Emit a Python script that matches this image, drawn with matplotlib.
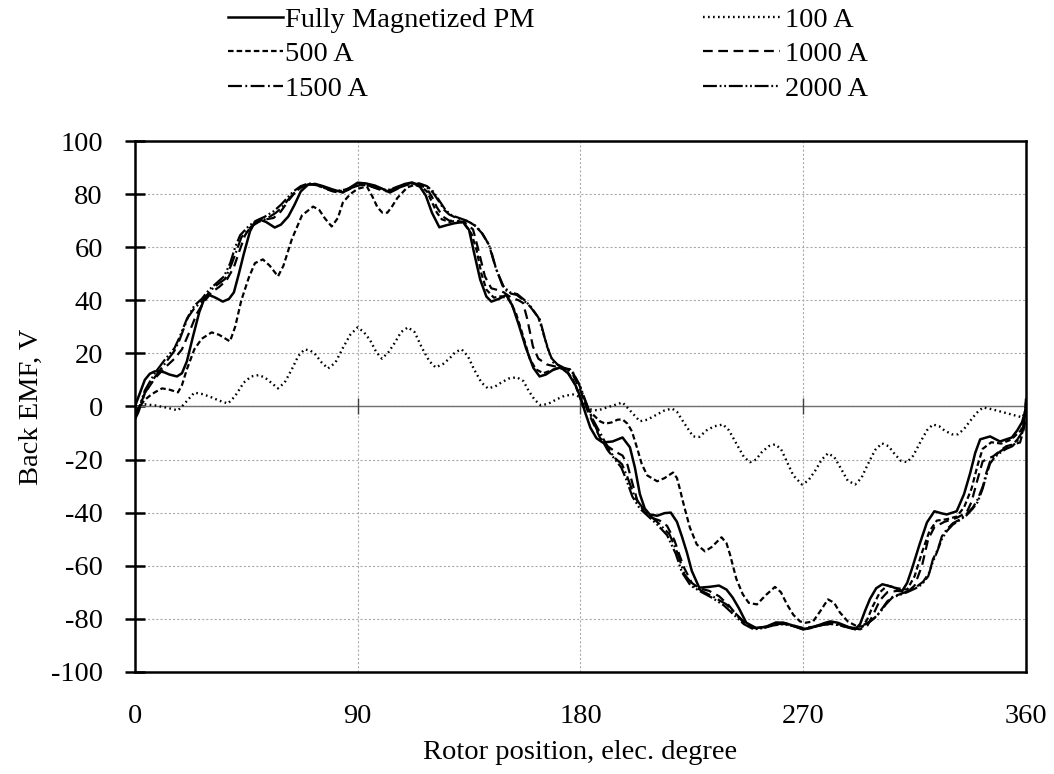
import matplotlib
matplotlib.use("Agg")
import matplotlib.pyplot as plt

plt.rcParams['font.family'] = ['Liberation Serif', 'DejaVu Serif']
plt.rcParams['font.size'] = 20.5
plt.rcParams['axes.unicode_minus'] = False
plt.rcParams['lines.scale_dashes'] = False

# rotor position (elec. deg) and back EMF (V)
x_fm = [0, 2, 4, 6, 8, 10, 12, 14, 17, 19, 21, 23.5, 26, 28, 30, 32.5, 35.5, 38, 40, 42, 44, 46.5, 48.5, 50.5,
        53, 56.5, 59, 62, 64.5, 67, 70, 73, 76, 80, 84, 87, 90, 93.5, 97, 100, 103, 106, 109, 112, 115, 117.5,
        120, 123, 126, 129, 132.5, 135, 137, 139.5, 142, 144, 147, 150, 152.5, 155, 158, 161, 163.5, 166, 169,
        172, 175, 178, 180, 182, 184, 186.5, 189, 193, 197, 200, 202, 204, 206, 208, 211, 214, 216.5, 219, 221,
        223, 225, 228, 232, 236, 239, 241.5, 244, 247, 251, 255, 259, 262, 265, 270, 273, 276, 279, 281, 284,
        288, 291, 293, 295, 297, 299.5, 302, 306, 310, 312, 314, 317, 320, 323, 326, 328, 332, 335, 337.5,
        339.5, 341.5, 345.5, 349.5, 354.3, 356.5, 358.4, 360]
y_fm = [0, 5, 10, 12.3, 13.2, 13.3, 12.8, 12, 11.3, 12.5, 17, 26.5, 35.5, 40.5, 42, 41, 39.5, 40.5, 43, 50, 57.5,
        66, 69.5, 70.4, 69.5, 67.4, 68.5, 71.6, 76, 81, 83.6, 83.8, 83, 81.7, 80.6, 82.5, 84.3, 84, 83.2, 82,
        80.6, 82, 83.8, 84.4, 83, 79.5, 73, 67.5, 68.3, 69, 69.5, 66.5, 58, 47.8, 41.4, 39.5, 40.5, 42, 38, 31,
        22, 14.5, 11.3, 12, 13.8, 14.7, 12.5, 8, 3.5, -2.5, -8, -12, -13.6, -13.2, -11.7, -15.4, -23, -33,
        -38.5, -40.7, -41.2, -40.2, -40, -43.5, -49, -55, -62, -68.3, -68, -67.5, -69, -72, -76, -81.5, -83.5,
        -83, -81.4, -81.5, -82.3, -84, -83.5, -82.5, -81.5, -81, -81.5, -83, -84, -82, -77, -72.5, -68.5, -67,
        -68, -69.5, -66.5, -61, -52, -43.7, -39.5, -40.3, -40.7, -39.5, -33, -25, -17.5, -12.4, -11.3, -13.2,
        -11.7, -9, -6, -1]

x_100 = [0, 4, 8, 13, 17.4, 20, 24, 27.5, 31, 34, 37.6, 40.4, 44, 47, 50, 52.5, 55, 57.8, 60.5, 63.4, 66, 68.5,
         71, 73, 75.5, 78, 81, 84, 87, 90, 92.5, 95, 97.5, 99.8, 102.5, 105, 107.5, 110.3, 113, 116, 119,
         121.5, 124.5, 127, 129.5, 132, 134.5, 137, 140, 142.6, 145.5, 148, 151, 154.3, 157, 159, 161.5, 164,
         167, 170, 173.5, 177, 180, 183, 187, 192, 197, 200, 204, 207, 210, 214, 217, 219, 221, 225.5, 228,
         231, 234, 237.6, 240, 243, 246, 248.5, 251, 253, 256, 258.6, 261, 263, 266, 269.5, 272, 275, 277.5,
         280, 282.5, 285, 288, 291, 293.5, 296, 299, 301.8, 304.5, 307, 309.5, 312, 314.5, 317, 320, 322.4,
         325, 327, 330, 332.5, 335, 337, 340, 342.6, 346, 350, 354, 358.4, 360]
y_100 = [0, 0.8, 0.4, -0.5, -1.5, 1, 5.2, 4.6, 3.4, 2.2, 1.1, 3.8, 9, 11.3, 11.8, 10.9, 9, 6.8, 9, 14, 19,
         21.5, 21, 19.5, 16.5, 14.3, 16.5, 22, 27, 29.8, 28, 25, 20.5, 18, 20.5, 24, 28, 29.8, 28, 22, 17,
         14.7, 16, 18, 20.5, 21.5, 19, 14, 9, 6.8, 7.5, 9, 10.5, 11, 9.5, 6, 2.5, 0.4, 1, 2.5, 4, 4.5, 3.5, -1,
         -1.5, 0, 1.5, -1.5, -5.6, -5, -3.5, -1.5, -0.8, -2, -5, -11.3, -11.5, -9, -7.5, -6.8, -9, -14, -19,
         -21, -20, -17.5, -15, -14.3, -16, -20, -26, -29.4, -28, -24, -20, -17.7, -19, -23, -28, -29.4, -27,
         -22, -16.5, -13.9, -15, -18, -20.5, -21, -18.5, -14, -9, -6.8, -7.5, -9, -10.5, -10.5, -8.5, -6,
         -2.5, -0.4, -1, -2, -3, -4.1, -2]

x_500 = [0, 2, 4, 6, 8, 11, 14, 17.4, 19, 21, 24, 27, 31, 34, 38.4, 40.5, 43, 46, 48.5, 51.7, 54.5, 57.8, 60,
         63.4, 67.5, 72, 74.5, 76.8, 79.5, 82, 84, 87, 90, 93.7, 96, 98, 100, 102, 104, 106, 110, 113, 116,
         118, 120, 122, 124, 127, 130, 133, 136, 138, 140, 142, 145, 148, 151, 154, 157, 159.5, 162, 165,
         168, 171, 174, 177, 179, 181, 182.6, 185, 187.9, 190, 192.7, 195, 197, 199, 200.8, 203, 204.8,
         207, 211, 214, 217.4, 219, 220, 222, 224.2, 227, 230.3, 233, 237, 239, 240.4, 243, 245.6, 248,
         251.3, 255, 258.6, 261, 263.4, 266, 268.7, 271, 274, 277, 280, 282.5, 284.8, 288, 291, 294, 296,
         298, 301, 304, 308, 312, 315, 318, 321, 324, 328, 332, 335, 338, 340.5, 342.5, 346, 350, 354, 358,
         360]
y_500 = [-2, 0, 2.5, 4, 5.3, 6.8, 6.3, 5.3, 8, 14, 21.5, 25.5, 27.9, 27, 24.5, 30, 40, 48.5, 54, 55.4, 53, 49,
         53, 63, 72, 75.3, 74, 70.8, 67.8, 71, 76.8, 80, 82, 82.9, 79, 75, 73, 73, 75.5, 78.5, 82.5, 83.5,
         82.5, 81, 77, 73, 70.5, 69.5, 70, 69, 65, 59, 50, 44, 41, 41.5, 40.5, 35, 26, 18, 14, 12.5, 13.5,
         14.5, 14, 10, 5.5, 0, -0.4, -3, -5.6, -6.5, -6, -5, -4.9, -6.5, -9.4, -16, -21.8, -26, -28.2, -27,
         -24.9, -27, -30.5, -38, -45.6, -52, -54.6, -53, -49.3, -51.5, -55.7, -65, -70.8, -74, -74.6, -71,
         -68, -70, -74.5, -78.5, -81, -81.5, -81, -77, -72.7, -74, -77.6, -81, -82.5, -83, -80, -75.5, -70,
         -67.5, -68.5, -69, -64, -55, -47, -43, -42.5, -41.5, -38, -31, -22, -16, -13.5, -14, -12.5, -9, -3]

x_1000 = [0, 1.5, 4, 8, 12, 16, 19, 22, 25, 28, 31, 34, 37, 40, 42, 44.5, 47, 50, 53, 56, 59, 62, 65, 68, 71,
          74, 77, 80, 83, 86, 89, 92, 95, 98, 101, 104, 107, 110, 113, 116, 118, 120, 122, 124.5, 127, 130,
          133, 136.6, 138.5, 141.4, 144, 146, 149, 152, 155, 156.8, 158.5, 160.8, 163, 166.5, 170, 173,
          175.8, 178, 180, 181.5, 183, 185, 188, 191, 194, 197, 199, 201, 203, 206, 209, 212, 215, 218, 220,
          222, 225, 228, 232, 236, 240, 243, 246, 250, 254, 258, 262, 266, 270, 274, 278, 282, 286, 290, 293,
          296, 298.5, 301, 304, 308, 312, 315, 318, 320.5, 323, 327, 332, 336, 338, 340, 342.5, 346.7, 352,
          357.6, 359, 360]
y_1000 = [-4, -1, 5, 10.5, 14.5, 18, 21.5, 28, 35, 39.5, 43, 45, 47.5, 52.5, 58, 64.5, 68, 70, 70.5, 71, 73.5,
          77.5, 81, 83, 83.8, 83.2, 82, 81, 80.5, 81.5, 83, 83.5, 83, 82, 81, 81.5, 82.5, 83.5, 83.8, 83, 82,
          79, 75, 71.5, 70, 69.8, 69.5, 66.7, 60, 49, 44.5, 44, 43, 41, 40, 39, 33, 22.6, 18, 15.8, 15, 14.5,
          14, 10, 6, 2, -2, -6, -12, -15, -17, -18.5, -22, -29, -35.5, -40, -42, -43, -45, -50.5, -56, -61,
          -66.5, -68.5, -69.5, -71.5, -75, -78.5, -81.5, -83.5, -83.5, -82, -81.5, -82.5, -83.5, -83, -82,
          -81.5, -82.5, -83.5, -84, -82.5, -78, -73, -70, -69.5, -70, -67.5, -60, -50, -45.5, -43.5, -42,
          -40, -36, -29, -20.7, -18.8, -15, -13.6, -9, -4]

x_1500 = [0, 1.5, 4, 8, 12, 16, 18, 21.4, 24, 27, 30, 32, 36.4, 39, 41, 43, 47, 50, 53.7, 57, 59.4, 62, 64.6,
          67, 70, 73, 76, 79, 82, 85, 88, 91, 94, 97, 100, 103, 106, 109, 112, 115, 118, 120.4, 123, 125,
          127, 130, 132.5, 135, 138, 140.5, 143.4, 146, 149.5, 152, 154.3, 157, 159.6, 163.6, 166.5, 169,
          173, 177, 179.8, 181.5, 183.8, 185, 188, 192, 194, 196.8, 199, 202, 205, 208, 212, 216, 219.4, 222,
          226, 230, 233.5, 239, 243, 247, 251, 255, 259, 263, 267, 271, 275, 279, 283, 287, 291, 294, 297,
          299.8, 302, 304, 306.5, 309, 312.5, 316, 318.5, 321, 322.4, 324.4, 326, 328, 330.5, 333.3, 336,
          338.6, 340.5, 342.6, 344, 345.5, 347.5, 349.5, 352, 354.7, 356.5, 358.4, 359.3, 360]
y_1500 = [-5, -2, 5, 11, 16, 21, 25, 33.5, 37, 39.5, 43, 45, 48, 53.5, 58.5, 63.7, 67.8, 69.5, 71, 73, 75, 78,
          80.6, 82.5, 83.6, 83.5, 82.5, 81.5, 81, 81.5, 82.5, 83.5, 83.3, 82.5, 81.5, 81.5, 82.5, 83.5, 84,
          83.8, 82.5, 80.6, 77, 74, 72.3, 71, 70.4, 69.5, 67.8, 65, 60.3, 51.6, 44, 42.5, 42, 40, 37.7, 32.8,
          22.6, 16.6, 14.7, 12.8, 7.5, 3, -2.3, -4.9, -10, -17, -19.5, -21.8, -26.7, -34.3, -38, -41, -44.4,
          -48.2, -55.7, -63.3, -67.8, -70, -71.6, -74.6, -78.3, -82, -83.5, -83, -82, -82, -83, -83.8, -83,
          -82, -82, -83, -83.5, -82.5, -81, -79, -76, -73.4, -71.5, -70.8, -69.5, -67.8, -66, -62.5, -57.6,
          -53.9, -49, -46.3, -44, -42.6, -40.5, -38, -35, -30, -25, -20.7, -18.5, -17, -15.5, -14.3, -12.5,
          -9.8, -5, 2]

x_2000 = [0, 1.5, 4, 8, 12, 16, 18, 21, 24, 27, 30, 33, 36, 38.5, 40.5, 42.5, 46, 49, 52.5, 56, 59, 62, 64, 67,
          70, 73, 76, 79, 82, 85, 88, 91, 94, 97, 100, 103, 106, 109, 112, 115, 118, 120.5, 123, 125.5, 128,
          131, 134, 137, 140, 143, 145.5, 148.5, 151.5, 154.5, 157.5, 160, 163, 165.5, 168, 171, 174, 177,
          179.5, 181.5, 183.5, 185, 188, 191, 194, 196.5, 198.5, 201, 204, 207.5, 211, 215, 218.5, 221, 224.5,
          229, 233, 238, 242, 246, 250, 254, 258, 262, 266, 270, 274, 278, 282, 286, 290, 293.5, 296.5, 299,
          301.5, 303.5, 306, 309, 312, 315.5, 318, 320.5, 322, 324, 326, 328, 330.5, 333, 336, 338.5, 340.5,
          342.5, 344, 345.5, 347.5, 349.5, 352, 354.5, 356.5, 358.5, 359.3, 360]
y_2000 = [-4, -1, 6, 12.5, 17.5, 22, 26, 33, 38, 40.5, 44, 46.5, 49, 54, 60, 64.5, 68, 70, 71.5, 73.5, 76, 79,
          81, 83, 84, 83.8, 82.8, 81.8, 81.3, 81.7, 82.8, 83.8, 83.5, 82.5, 81.7, 81.7, 82.8, 83.8, 84.2, 84,
          83, 81, 77.5, 74, 72, 71, 70, 68.5, 65.5, 61, 53, 45.5, 43, 42.3, 40, 37.5, 33.5, 26, 18.5, 15.5,
          14.3, 12.5, 8.5, 3.5, -1.5, -5.5, -11.5, -16.5, -20, -23, -27.5, -34, -38.5, -41.5, -44.5, -48.5,
          -55.5, -62.5, -67.5, -70, -72, -75, -78.5, -82, -84, -83.5, -82.5, -82, -82.8, -84, -83.2, -82.3,
          -82, -82.8, -83.8, -83, -81.5, -79.5, -77, -74.5, -72, -71, -70, -68.5, -67, -64, -59.5, -55, -50,
          -47, -44.5, -43, -41, -38.5, -36, -31, -26, -21.5, -19, -17.5, -16, -15, -13, -10, -5, 3]

x_ticks = [0, 90, 180, 270, 360]
y_ticks = list(range(-100, 101, 20))

fig = plt.figure(figsize=(10.54, 7.74), dpi=100)
ax = fig.add_axes([0.128, 0.132, 0.8454, 0.6858])

ax.grid(True, color='#a8a8a8', linestyle=(0, (1.5, 1.5)), linewidth=0.8)
ax.set_axisbelow(True)
ax.axhline(0, color='#707070', lw=1.0, zorder=1)
ax.plot(x_ticks[1:-1], [0] * 3, ls='none', marker='|', ms=12, mew=1.0, color='#404040', zorder=1)

lw = 1.6
l_fm, = ax.plot(x_fm, y_fm, color='black', lw=1.8, ls='-', label='Fully Magnetized PM')
l_100, = ax.plot(x_100, y_100, color='black', lw=1.7, ls=(0, (1.2, 2.4)), label='100 A')
l_500, = ax.plot(x_500, y_500, color='black', lw=lw, ls=(0, (4.0, 2.2)), label='500 A')
l_1000, = ax.plot(x_1000, y_1000, color='black', lw=lw, ls=(0, (7.0, 4.0)), label='1000 A')
l_1500, = ax.plot(x_1500, y_1500, color='black', lw=lw, ls=(0, (10, 2.5, 1.3, 2.5)), label='1500 A')
l_2000, = ax.plot(x_2000, y_2000, color='black', lw=lw, ls=(0, (10, 2, 1.3, 2, 1.3, 2)), label='2000 A')

ax.set_xlim(0, 360)
ax.set_ylim(-100, 100)
ax.set_xticks(x_ticks)
ax.set_yticks(y_ticks)
ax.tick_params(axis='x', length=0, pad=23)
ax.tick_params(axis='y', direction='inout', length=14, width=1.8, pad=16)
for s in ax.spines.values():
    s.set_linewidth(1.8)
    s.set_color('black')

ax.set_xlabel('Rotor position, elec. degree', labelpad=8)
ax.set_ylabel('Back EMF, V', labelpad=5)

# two legend columns, each with its own handle length
col1 = [l_fm, l_500, l_1500]
col2 = [l_100, l_1000, l_2000]
leg1 = fig.legend(handles=col1, labels=[h.get_label() for h in col1], frameon=False,
                  loc='upper left', bbox_to_anchor=(228 / 1054, 0.9912), handlelength=1.93,
                  handletextpad=0.07, labelspacing=0.3, borderpad=0, borderaxespad=0)
leg2 = fig.legend(handles=col2, labels=[h.get_label() for h in col2], frameon=False,
                  loc='upper left', bbox_to_anchor=(703 / 1054, 0.9912), handlelength=2.7,
                  handletextpad=0.18, labelspacing=0.3, borderpad=0, borderaxespad=0)

fig.savefig('out.png', dpi=100)
